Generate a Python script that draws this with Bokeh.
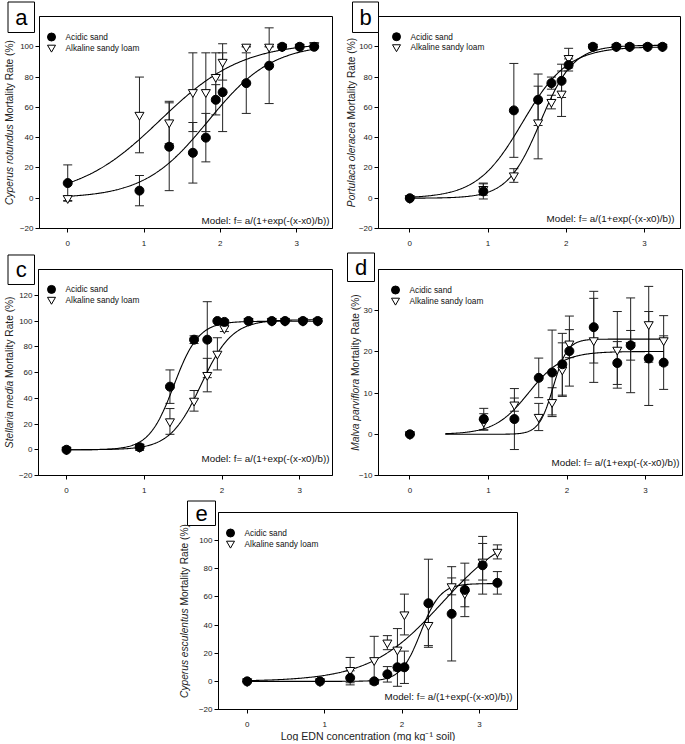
import numpy as np
from bokeh.plotting import figure
from bokeh.models import ColumnDataSource, Whisker, TeeHead, Label, FixedTicker, Range1d, Spacer
from bokeh.layouts import column, row
from bokeh.core.properties import value
from bokeh.embed import file_html
from bokeh.resources import INLINE

FONT = "Liberation Sans"

# ---------------- data ----------------
log_conc = [0, 0.94, 1.33, 1.64, 1.81, 1.94, 2.03, 2.34, 2.64, 2.81, 3.04, 3.23]
series_names = ["Acidic sand", "Alkaline sandy loam"]
model_text = "Model: f= a/(1+exp(-(x-x0)/b))"
y_label_suffix = "Mortality Rate (%)"
x_label = "Log EDN concentration (mg kg\u207b\u00b9 soil)"
x_ticks = [0, 1, 2, 3]

# (a) Cyperus rotundus
a_species = "Cyperus rotundus"
a_acid = [10, 5, 34, 30, 40, 65, 70, 76, 87.5, 100, 100, 100]
a_acid_err = [12, 10, 29, 20, 16, 10, 26, 20, 25, 0, 0, 0]
a_alk = [0, 55, 50, 70, 70, 80, 90, 100, 100, 100, 100, 101]
a_alk_err = [1.5, 25, 14, 26, 26, 16, 12, 0, 0, 0, 0, 0]
a_fit_acid = [102, 1.84, 0.42]     # a, x0, b
a_fit_alk = [103, 1.21, 0.54]
a_yticks = [-20, 0, 20, 40, 60, 80, 100]

# (b) Portulaca oleracea
b_species = "Portulaca oleracea"
b_acid = [0, 4.5, 58, 65, 76, 77.5, 88, 100, 100, 100, 100, 100]
b_acid_err = [0, 5, 31, 17, 4, 11, 4, 0, 0, 0, 0, 0]
b_alk = [0, 6, 15, 50, 63.5, 69, 92.5, 100, 100, 100, 100, 100]
b_alk_err = [0, 4, 4.5, 24, 4.5, 15, 6.5, 0, 0, 0, 0, 0]
b_fit_acid = [100, 1.44, 0.29]
b_fit_alk = [101, 1.67, 0.21]
b_yticks = [-20, 0, 20, 40, 60, 80, 100]

# (c) Stellaria media
c_species = "Stellaria media"
c_acid = [0, 2, 49, 85.5, 85.5, 100, 99.3, 100, 100, 100, 100, 100]
c_acid_err = [0, 2.5, 13, 3, 29.5, 0, 1.5, 0, 0, 0, 0, 0]
c_alk = [0, 2, 22, 38, 58, 74.5, 94.3, 100, 100, 100, 100, 100]
c_alk_err = [0, 1, 10, 8, 13, 12.5, 2.5, 0, 0, 0, 0, 0]
c_fit_acid = [99.8, 1.38, 0.16]
c_fit_alk = [101, 1.73, 0.20]
c_yticks = [-20, 0, 20, 40, 60, 80, 100, 120]

# (d) Malva parviflora
d_species = "Malva parviflora"
d_acid = [0, 3.7, 3.7, 13.7, 15, 17, 20.2, 26, 17.3, 21.6, 18.4, 17.4]
d_acid_err = [0, 2.6, 7.4, 4.8, 10.3, 7.5, 8.5, 8.7, 5.2, 11.5, 11.4, 6.5]
d_alk = [0, 3, 7.2, 4.2, 7.8, 15.7, 22, 22.8, 20.5, 21.6, 26.7, 22.8]
d_alk_err = [0, 2, 1.6, 3.3, 3.5, 6.5, 3.4, 10.2, 9.3, 3.6, 9.2, 6]
d_fit_acid = [20.1, 1.51, 0.216]
d_fit_alk = [23.1, 1.825, 0.091]
d_yticks = [-10, 0, 10, 20, 30]

# (e) Cyperus esculentus
e_species = "Cyperus esculentus"
e_acid = [0, 0, 2.5, 0, 5, 10, 10, 55.5, 48, 65, 82.5, 70]
e_acid_err = [0, 0, 5, 1.5, 5.5, 13.5, 11.5, 31.3, 33.5, 19, 20.5, 8]
e_alk = [0, 0, 8, 15, 27.5, 22.5, 47.5, 40, 67.5, 62.5, 85, 92]
e_alk_err = [0, 0, 9, 17, 5, 15, 14.5, 14.6, 6, 9.5, 13, 5]
e_fit_acid = [69.5, 2.24, 0.127]
e_fit_alk = [112, 2.52, 0.47]
e_yticks = [-20, 0, 20, 40, 60, 80, 100]

# Arial / Liberation Sans advance widths (per 1000 em) for centring rotated labels
ADV = {' ': 278, '(': 333, ')': 333, '%': 889, 'C': 722, 'M': 833, 'P': 667, 'R': 722,
       'S': 667, 'a': 556, 'c': 500, 'd': 556, 'e': 556, 'f': 278, 'i': 222, 'l': 222,
       'm': 833, 'n': 556, 'o': 556, 'p': 556, 'r': 333, 's': 500, 't': 278, 'u': 556,
       'v': 500, 'y': 500}


def text_width(s, fs):
    return sum(ADV.get(ch, 556) for ch in s) * fs / 1000.0


def make_panel(letter, species, acid, acid_err, alk, alk_err, fit_acid, fit_alk,
               yticks, xr, yr, fig_box, frame_box, letter_box, ylab_x,
               legend_dx, model_dx, model_dy, curve_start=0.0, xlabel=None):
    fx0, fy0, fx1, fy1 = fig_box
    L, T, R, B = frame_box
    p = figure(width=fx1 - fx0, height=fy1 - fy0,
               x_range=Range1d(*xr), y_range=Range1d(*yr),
               output_backend="svg", toolbar_location=None, title=None,
               min_border_left=L - fx0, min_border_right=fx1 - R,
               min_border_top=T - fy0, min_border_bottom=fy1 - B,
               background_fill_color="white", border_fill_color="white")
    p.xgrid.visible = False
    p.ygrid.visible = False
    p.outline_line_color = "black"
    p.outline_line_width = 1
    p.xaxis.ticker = FixedTicker(ticks=x_ticks)
    p.yaxis.ticker = FixedTicker(ticks=yticks)
    for ax in (p.xaxis[0], p.yaxis[0]):
        ax.axis_line_color = "black"
        ax.major_tick_line_color = "black"
        ax.major_tick_out = 4
        ax.major_tick_in = 0
        ax.minor_tick_out = 0
        ax.minor_tick_in = 0
        ax.major_label_text_font = FONT
        ax.major_label_text_font_size = "8px"
        ax.major_label_text_color = "#222222"
    p.xaxis.major_label_standoff = 8
    p.yaxis.major_label_standoff = 2

    def px2d(px, py):
        x = xr[0] + (px - L) / (R - L) * (xr[1] - xr[0])
        y = yr[1] - (py - T) / (B - T) * (yr[1] - yr[0])
        return x, y

    acid_a = np.array(acid, float)
    acid_e = np.array(acid_err, float)
    alk_a = np.array(alk, float)
    alk_e = np.array(alk_err, float)
    src = ColumnDataSource(dict(x=log_conc, acid=acid_a, alk=alk_a,
                                acid_lo=acid_a - acid_e, acid_hi=acid_a + acid_e,
                                alk_lo=alk_a - alk_e, alk_hi=alk_a + alk_e))
    for lo, hi in (("alk_lo", "alk_hi"), ("acid_lo", "acid_hi")):
        w = Whisker(source=src, base="x", lower=lo, upper=hi, dimension="height",
                    line_color="#222222", line_width=1,
                    lower_head=TeeHead(size=9, line_color="#222222", line_width=1),
                    upper_head=TeeHead(size=9, line_color="#222222", line_width=1))
        p.add_layout(w)

    xs = np.linspace(curve_start, log_conc[-1], 300)
    for (fa, fx0_, fb) in (fit_alk, fit_acid):
        ys = fa / (1.0 + np.exp(-(xs - fx0_) / fb))
        p.line(xs, ys, line_color="black", line_width=1.1)

    p.scatter("x", "alk", source=src, marker="inverted_triangle", size=9,
              fill_color="white", line_color="black", line_width=1)
    p.scatter("x", "acid", source=src, marker="circle", size=9,
              fill_color="black", line_color="black")

    # legend (manual, to match compact spacing)
    mx = L + legend_dx
    for i, (name, mk, fc, sz) in enumerate(zip(series_names,
                                               ["circle", "inverted_triangle"],
                                               ["black", "white"], [8, 8])):
        py = T + 20.5 + 10.5 * i
        dx, dy = px2d(mx, py)
        p.scatter([dx], [dy], marker=mk, size=sz, fill_color=fc, line_color="black")
        tx, ty = px2d(mx + 14, py)
        p.add_layout(Label(x=tx, y=ty, text=name, text_font=FONT, text_font_size="8.3px",
                           text_baseline="middle", text_align="left", text_color="#111111"))

    # model text
    tx, ty = px2d(R - model_dx, B - model_dy)
    p.add_layout(Label(x=tx, y=ty, text=model_text, text_font=FONT, text_font_size="9.8px",
                       text_baseline="middle", text_align="right", text_color="#111111"))

    # panel letter box
    bx0, by0, bx1, by1 = letter_box
    cx, cy = px2d((bx0 + bx1) / 2.0, (by0 + by1) / 2.0)
    p.rect(x=[cx], y=[cy], width=bx1 - bx0, height=by1 - by0,
           width_units="screen", height_units="screen",
           fill_color="white", line_color="black", line_width=1, level="annotation")
    p.text(x=[cx], y=[cy], text=[letter], text_font=value(FONT), text_font_size="22px",
           text_align="center", text_baseline="middle", text_color="black",
           level="annotation")

    # y-axis label: italic species + regular suffix, rotated, centred on frame
    fs = 10.2
    w_it = text_width(species, fs)
    w_sp = text_width(" ", fs)
    total = w_it + w_sp + text_width(y_label_suffix, fs)
    yc = (T + B) / 2.0
    junction = yc + total / 2.0 - w_it
    lx, ly = px2d(ylab_x, junction)
    p.text(x=[lx], y=[ly], text=[species], angle=np.pi / 2, text_font=value(FONT),
           text_font_size=f"{fs}px", text_font_style="italic",
           text_align="right", text_baseline="middle", text_color="#222222",
           level="annotation")
    lx2, ly2 = px2d(ylab_x, junction - w_sp)
    p.text(x=[lx2], y=[ly2], text=[y_label_suffix], angle=np.pi / 2, text_font=value(FONT),
           text_font_size=f"{fs}px", text_align="left", text_baseline="middle",
           text_color="#222222", level="annotation")

    if xlabel is not None:
        xl, yl = px2d((L + R) / 2.0, xlabel)
        p.text(x=[xl], y=[yl], text=[x_label], text_font=value(FONT), text_font_size="10.6px",
               text_align="center", text_baseline="middle", text_color="#222222",
               level="annotation")
    return p


# page coordinates (the layout's top-left corner lands at about (1, 1))
ORIGIN = 1
pa = make_panel("a", a_species, a_acid, a_acid_err, a_alk, a_alk_err, a_fit_acid, a_fit_alk,
                a_yticks, (-0.37, 3.47), (-20, 120),
                fig_box=(1, 1, 340, 253), frame_box=(40, 17, 333, 229),
                letter_box=(8.5, 2.5, 35, 33), ylab_x=10,
                legend_dx=12, model_dx=3, model_dy=8)
pb = make_panel("b", b_species, b_acid, b_acid_err, b_alk, b_alk_err, b_fit_acid, b_fit_alk,
                b_yticks, (-0.40, 3.46), (-20, 120),
                fig_box=(340, 1, 684, 253), frame_box=(379, 17, 681, 232),
                letter_box=(353, 2.5, 379, 33), ylab_x=352,
                legend_dx=18, model_dx=6, model_dy=10)
pc = make_panel("c", c_species, c_acid, c_acid_err, c_alk, c_alk_err, c_fit_acid, c_fit_alk,
                c_yticks, (-0.36, 3.42), (-20, 140),
                fig_box=(1, 253, 340, 501), frame_box=(39, 268, 333, 480),
                letter_box=(8.5, 253.5, 35, 283), ylab_x=10,
                legend_dx=13, model_dx=3, model_dy=17)
pd_ = make_panel("d", d_species, d_acid, d_acid_err, d_alk, d_alk_err, d_fit_acid, d_fit_alk,
                 d_yticks, (-0.40, 3.47), (-10, 40),
                 fig_box=(340, 253, 684, 501), frame_box=(379, 270, 683, 476),
                 letter_box=(348, 253.5, 375, 282), ylab_x=356,
                 legend_dx=17, model_dx=3, model_dy=13, curve_start=0.45)
pe = make_panel("e", e_species, e_acid, e_acid_err, e_alk, e_alk_err, e_fit_acid, e_fit_alk,
                e_yticks, (-0.37, 3.49), (-20, 120),
                fig_box=(150, 501, 560, 742), frame_box=(219, 513, 518, 710),
                letter_box=(188, 501.5, 216, 526), ylab_x=185,
                legend_dx=12, model_dx=5, model_dy=13, xlabel=736.5)

layout = column(row(pa, pb), row(pc, pd_),
                row(Spacer(width=150 - ORIGIN, height=742 - 501), pe))
open("out.html", "w").write(file_html(layout, INLINE))
